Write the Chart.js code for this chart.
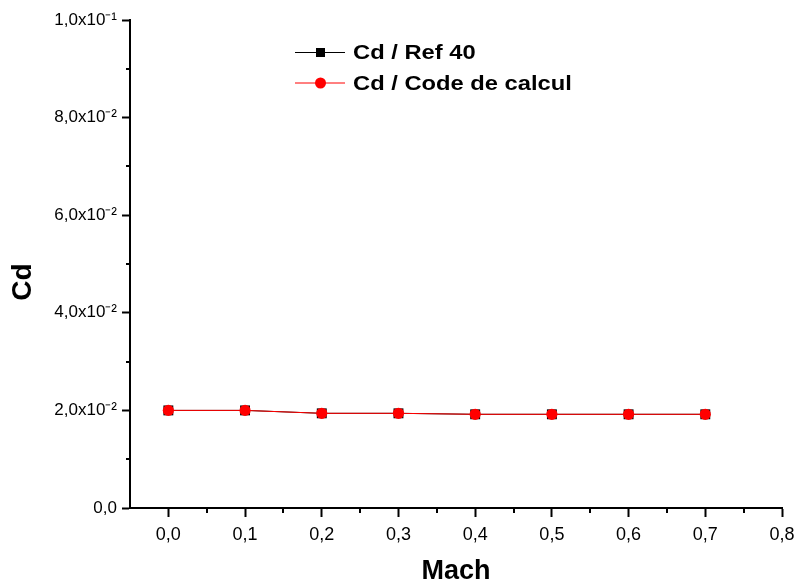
<!DOCTYPE html>
<html><head><meta charset="utf-8">
<script src="https://cdn.jsdelivr.net/npm/chart.js@4/dist/chart.umd.min.js"></script>
<style>html,body{margin:0;padding:0;background:#fff}#w{width:800px;height:588px}</style>
</head><body><div id="w"><canvas id="c" width="800" height="588"></canvas></div>
<script>
const mach = [0.0, 0.1, 0.2, 0.3, 0.4, 0.5, 0.6, 0.7];
const cdRef40 = [0.0200, 0.0200, 0.0194, 0.0194, 0.0192, 0.0192, 0.0192, 0.0192];
const cdCode = [0.0200, 0.0200, 0.0194, 0.0194, 0.0192, 0.0192, 0.0192, 0.0192];
const seriesLabels = ['Cd / Ref 40', 'Cd / Code de calcul'];
const xTicks = [0.0, 0.1, 0.2, 0.3, 0.4, 0.5, 0.6, 0.7, 0.8];
const yTicks = [0.0, 0.02, 0.04, 0.06, 0.08, 0.1];
const xTitle = 'Mach';
const yTitle = 'Cd';

const SUP = {'-':'\u207B','0':'\u2070','1':'\u00B9','2':'\u00B2','3':'\u00B3','4':'\u2074','5':'\u2075','6':'\u2076','7':'\u2077','8':'\u2078','9':'\u2079'};
function sci(v){
  if (Math.abs(v) < 1e-12) return '0,0';
  const e = Math.floor(Math.log10(v) + 1e-9);
  const m = (v / Math.pow(10, e)).toFixed(1).replace('.', ',');
  return m + 'x10' + String(e).split('').map(c => SUP[c]).join('');
}
const FONT = "'Liberation Sans', Arial, sans-serif";

const minorTicks = {
  id: 'minorTicks',
  afterDraw(chart) {
    const ctx = chart.ctx, xs = chart.scales.x, ys = chart.scales.y;
    ctx.save();
    ctx.strokeStyle = '#000'; ctx.lineWidth = 2;
    for (let i = 0; i < yTicks.length - 1; i++) {
      const y = Math.round(ys.getPixelForValue((yTicks[i] + yTicks[i + 1]) / 2));
      ctx.beginPath(); ctx.moveTo(xs.left - 4, y); ctx.lineTo(xs.left, y); ctx.stroke();
    }
    for (let i = 0; i < xTicks.length - 1; i++) {
      const x = Math.round(xs.getPixelForValue((xTicks[i] + xTicks[i + 1]) / 2));
      ctx.beginPath(); ctx.moveTo(x, ys.bottom); ctx.lineTo(x, ys.bottom + 5); ctx.stroke();
    }
    // y axis title
    ctx.fillStyle = '#000';
    ctx.font = 'bold 28px ' + FONT;
    ctx.textAlign = 'center'; ctx.textBaseline = 'middle';
    ctx.translate(23, 282); ctx.rotate(-Math.PI / 2);
    ctx.fillText(yTitle, 0, 0);
    ctx.restore();
  }
};

const customLegend = {
  id: 'customLegend',
  afterDraw(chart) {
    const ctx = chart.ctx;
    const x0 = 295, x1 = 345, tx = 353, rows = [52.5, 83];
    chart.data.datasets.forEach((ds, i) => {
      const y = rows[i];
      ctx.save();
      ctx.strokeStyle = ds.borderColor; ctx.lineWidth = 1;
      ctx.beginPath(); ctx.moveTo(x0, y); ctx.lineTo(x1, y); ctx.stroke();
      ctx.fillStyle = ds.pointBackgroundColor;
      const cx = 320.5;
      if (ds.pointStyle === 'rect') { ctx.fillRect(cx - 4.5, y - 4.5, 9, 9); }
      else { ctx.beginPath(); ctx.arc(cx, y, 5.5, 0, Math.PI * 2); ctx.fill(); }
      ctx.fillStyle = '#000';
      ctx.font = 'bold 21px ' + FONT;
      ctx.textBaseline = 'middle'; ctx.textAlign = 'left';
      ctx.translate(tx, y + 1); ctx.scale(1.13, 1);
      ctx.fillText(ds.label, 0, 0);
      ctx.restore();
    });
  }
};

new Chart(document.getElementById('c'), {
  type: 'line',
  data: {
    datasets: [
      { label: seriesLabels[0], data: mach.map((m, i) => ({x: m, y: cdRef40[i]})),
        borderColor: '#000', backgroundColor: '#000', pointBackgroundColor: '#000', pointBorderColor: '#000',
        borderWidth: 1, pointStyle: 'rect', pointRadius: 7, pointBorderWidth: 0, order: 2 },
      { label: seriesLabels[1], data: mach.map((m, i) => ({x: m, y: cdCode[i]})),
        borderColor: '#ff0000', backgroundColor: '#ff0000', pointBackgroundColor: '#ff0000', pointBorderColor: '#ff0000',
        borderWidth: 1, pointStyle: 'circle', pointRadius: 5.6, pointBorderWidth: 0, order: 1 }
    ]
  },
  options: {
    responsive: false, animation: false,
    layout: { padding: { left: 0, right: 0, top: 20, bottom: 0 } },
    plugins: { legend: { display: false }, tooltip: { enabled: false } },
    scales: {
      x: {
        type: 'linear', min: -0.05, max: 0.8,
        afterFit(s) { s.height = 80; s.paddingRight = 18; s.paddingLeft = 0; },
        ticks: {
          color: '#000', font: { family: FONT, size: 18 }, padding: 7,
          maxRotation: 0, autoSkip: false,
          callback: v => v.toFixed(1).replace('.', ',')
        },
        afterBuildTicks(s) { s.ticks = xTicks.map(v => ({ value: v })); },
        grid: { drawOnChartArea: false, drawTicks: true, tickLength: 9, tickWidth: 2, tickColor: '#000' },
        border: { display: true, color: '#000', width: 2 },
        title: { display: true, text: xTitle, color: '#000', font: { family: FONT, size: 27, weight: 'bold' }, padding: { top: 2, bottom: 0 } }
      },
      y: {
        min: 0, max: 0.1,
        afterFit(s) { s.width = 130; },
        afterBuildTicks(s) { s.ticks = yTicks.map(v => ({ value: v })); },
        ticks: { color: '#000', font: { family: FONT, size: 17 }, padding: 5, callback: v => sci(v) },
        grid: { drawOnChartArea: false, drawTicks: true, tickLength: 8, tickWidth: 2, tickColor: '#000' },
        border: { display: true, color: '#000', width: 2 },
        title: { display: false }
      }
    }
  },
  plugins: [minorTicks, customLegend]
});
</script></body></html>
